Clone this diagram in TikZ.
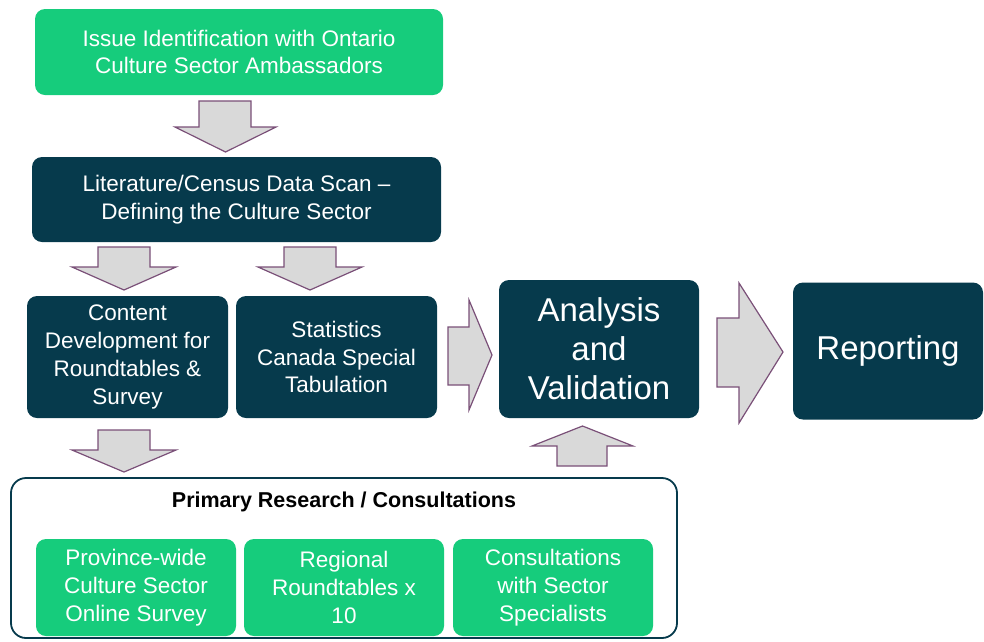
\documentclass[tikz,border=0pt]{standalone}
\usepackage{fontspec}
\setmainfont{Liberation Sans}
\definecolor{stepgreen}{RGB}{22,204,124}
\definecolor{stepdark}{RGB}{6,58,76}
\definecolor{arrowfill}{RGB}{217,217,217}
\definecolor{arrowline}{RGB}{122,80,120}
\begin{document}
\begin{tikzpicture}[x=1pt,y=-1pt,
  stepbox/.style={rounded corners=10pt, inner sep=0pt, align=center, text=white,
    font=\fontsize{22.5}{27.7}\selectfont},
  greenbox/.style={stepbox, fill=stepgreen},
  darkbox/.style={stepbox, fill=stepdark},
  bigtext/.style={font=\fontsize{33}{39}\selectfont},
  blockarrow/.style={fill=arrowfill, draw=arrowline, line width=1.2pt, line join=miter}]
\useasboundingbox (0,0) rectangle (984,641);

% top chain
\node[greenbox, minimum width=408pt, minimum height=86pt] (issue) at (239,52)
  {Issue Identification with Ontario\\Culture Sector Ambassadors};
\node[darkbox, minimum width=409pt, minimum height=85pt] (scan) at (236.5,199.5)
  {Literature/Census Data Scan –\\Defining the Culture Sector};
\node[darkbox, minimum width=201pt, minimum height=122pt] (content) at (127.5,357)
  {Content\\Development for\\Roundtables \&\\Survey};
\node[darkbox, minimum width=201pt, minimum height=122pt] (stats) at (336.5,357)
  {Statistics\\Canada Special\\Tabulation};
\node[darkbox, bigtext, minimum width=200pt, minimum height=138pt] (analysis) at (599,349)
  {Analysis\\and\\Validation};
\node[darkbox, bigtext, minimum width=190pt, minimum height=137pt] (report) at (888,351)
  {Reporting};

% consultations panel
\node[draw=stepdark, line width=1.8pt, fill=white, rounded corners=15pt,
  minimum width=666pt, minimum height=160pt] (primary) at (344,558) {};
\node[font=\fontsize{21.5}{24}\selectfont\bfseries, text=black] (ptitle) at (344,502)
  {Primary Research / Consultations};
\node[greenbox, minimum width=200pt, minimum height=97pt] (survey) at (136,587.5)
  {Province-wide\\Culture Sector\\Online Survey};
\node[greenbox, minimum width=200pt, minimum height=97pt] (round) at (344,587.5)
  {Regional\\Roundtables x\\10};
\node[greenbox, minimum width=200pt, minimum height=97pt] (special) at (553,587.5)
  {Consultations\\with Sector\\Specialists};

% block arrows between the stages
\draw[blockarrow] (199,101) -- (251,101) -- (251,127) -- (276,127) -- (225.5,152)
  -- (175,127) -- (199,127) -- cycle;
\draw[blockarrow] (98,247) -- (150,247) -- (150,267) -- (176,267) -- (124,290)
  -- (72,267) -- (98,267) -- cycle;
\draw[blockarrow] (284,247) -- (336,247) -- (336,267) -- (362,267) -- (310,290)
  -- (258,267) -- (284,267) -- cycle;
\draw[blockarrow] (98,430) -- (150,430) -- (150,450) -- (176,450) -- (124,472)
  -- (72,450) -- (98,450) -- cycle;
\draw[blockarrow] (557,466) -- (607,466) -- (607,446) -- (633,446) -- (582.5,426)
  -- (532,446) -- (557,446) -- cycle;
\draw[blockarrow] (448,327) -- (469,327) -- (469,300) -- (492,355) -- (469,410)
  -- (469,385) -- (448,385) -- cycle;
\draw[blockarrow] (717,318) -- (739,318) -- (739,283) -- (783,352) -- (739,423)
  -- (739,387) -- (717,387) -- cycle;
\end{tikzpicture}
\end{document}
